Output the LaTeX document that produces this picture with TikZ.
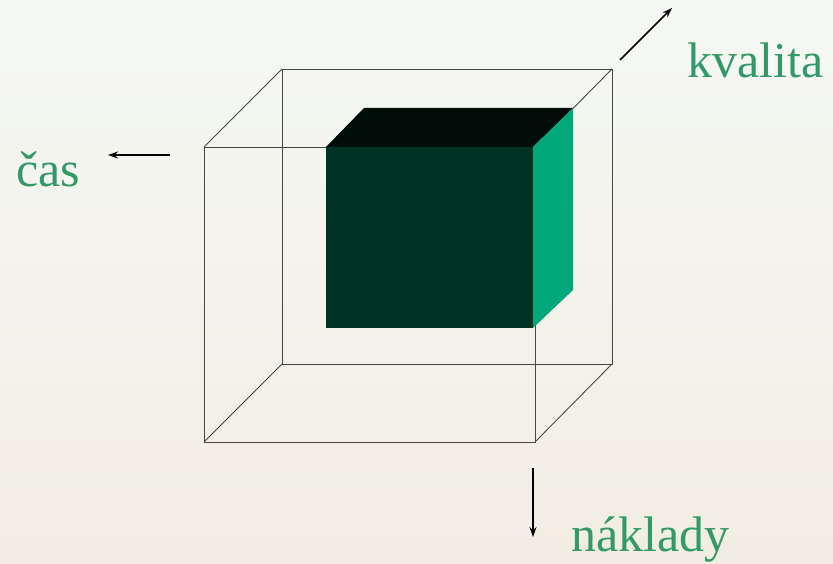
\documentclass[tikz,border=0pt]{standalone}
\usepackage{fontspec}
\setmainfont{Liberation Serif}
\usepackage{xcolor}
\usetikzlibrary{arrows.meta,positioning,calc}
\definecolor{labelgreen}{RGB}{51,153,102}
\definecolor{frontgreen}{RGB}{0,50,36}
\definecolor{topgreen}{RGB}{0,13,8}
\definecolor{sidegreen}{RGB}{0,168,122}
\definecolor{bgtop}{RGB}{245,248,244}
\definecolor{bgbottom}{RGB}{242,237,226}
\definecolor{edgegrey}{RGB}{70,70,70}

\begin{document}
\begin{tikzpicture}[
  x=1pt, y=-1pt,
  edge/.style={draw=edgegrey, line width=0.9pt},
  axis/.style={-{Stealth[length=10pt,width=7pt]}, line width=1.5pt},
  label/.style={text=labelgreen, font=\fontsize{50}{58}\selectfont, anchor=base west, inner sep=0pt}
]
% Pozadí
\shade[top color=bgtop, bottom color=bgbottom] (0,0) rectangle (833,564);
\useasboundingbox (0,0) rectangle (833,564);

% Vnější krychle
\coordinate (F1) at (204,147);
\coordinate (F2) at (535,147);
\coordinate (F3) at (535,442);
\coordinate (F4) at (204,442);
\coordinate (B1) at (282,69);
\coordinate (B2) at (612,69);
\coordinate (B3) at (612,364);
\coordinate (B4) at (282,364);
\draw[edge] (F1) -- (F2) -- (F3) -- (F4) -- cycle;
\draw[edge] (B1) -- (B2) -- (B3) -- (B4) -- cycle;
\draw[edge] (F1) -- (B1);
\draw[edge] (F2) -- (B2);
\draw[edge] (F3) -- (B3);
\draw[edge] (F4) -- (B4);

% Vnitřní kvádr
\coordinate (I1) at (326,147);
\coordinate (I2) at (533,147);
\coordinate (I3) at (533,328);
\coordinate (I4) at (326,328);
\coordinate (J1) at (364,108);
\coordinate (J2) at (573,108);
\coordinate (J3) at (573,290);
\fill[frontgreen] (I1) -- (I2) -- (I3) -- (I4) -- cycle;
\fill[topgreen] (I1) -- (J1) -- (J2) -- (I2) -- cycle;
\fill[sidegreen] (I2) -- (J2) -- (J3) -- (I3) -- cycle;

% Popisky
\node[label] (kvalita) at (687,78) {kvalita};
\node[label] (cas) at (16,187) {čas};
\node[label] (naklady) at (571,551) {náklady};

% Šipky
\coordinate (kvS) at (620,60);
\coordinate (kvE) at (672,8);
\coordinate (caS) at (170,155);
\coordinate (caE) at (108,155);
\coordinate (naS) at (533,468);
\coordinate (naE) at (533,537);
\draw[axis] (kvS) -- (kvE);
\draw[axis] (caS) -- (caE);
\draw[axis] (naS) -- (naE);
\end{tikzpicture}
\end{document}
